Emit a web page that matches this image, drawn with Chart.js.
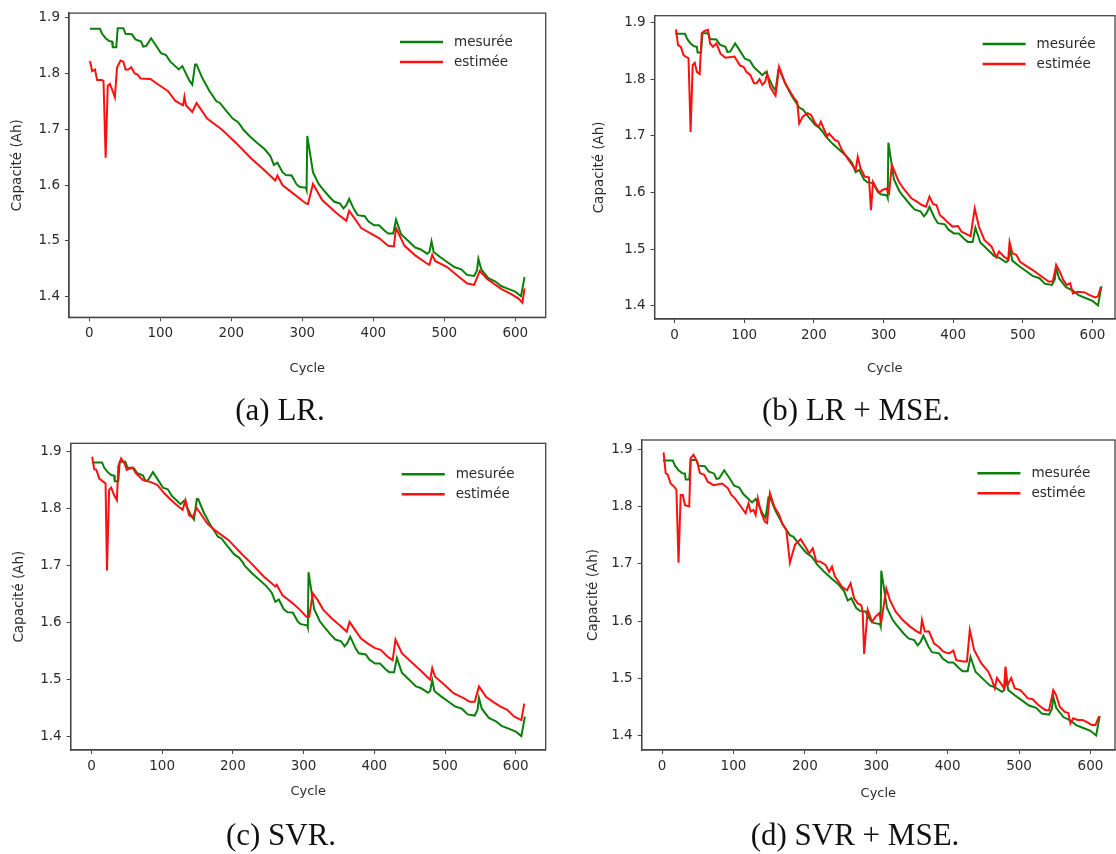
<!DOCTYPE html>
<html lang="fr">
<head>
<meta charset="utf-8">
<title>Capacité mesurée / estimée</title>
<script src="https://cdn.jsdelivr.net/npm/chart.js@4.4.0/dist/chart.umd.min.js"></script>
<style>
  html, body { margin: 0; padding: 0; background: #fff; }
  #page { position: relative; width: 1116px; height: 854px; overflow: hidden; background: #fff; }
  .panel { position: absolute; }
  .panel canvas { display: block; }
  .caption {
    position: absolute;
    font-family: "Liberation Serif", "Times New Roman", serif;
    font-size: 31px;
    color: #111;
    white-space: nowrap;
    transform: translate(-50%, -50%);
  }
</style>
</head>
<body>
<div id="page">
  <div class="panel" style="left:0;top:0"><canvas id="chartA" width="556" height="390"></canvas></div>
  <div class="panel" style="left:556px;top:0"><canvas id="chartB" width="560" height="390"></canvas></div>
  <div class="panel" style="left:0;top:425px"><canvas id="chartC" width="556" height="395"></canvas></div>
  <div class="panel" style="left:556px;top:425px"><canvas id="chartD" width="560" height="395"></canvas></div>

  <div class="caption" style="left:280px;top:410px">(a) LR.</div>
  <div class="caption" style="left:856px;top:410px">(b) LR + MSE.</div>
  <div class="caption" style="left:281px;top:835px">(c) SVR.</div>
  <div class="caption" style="left:855px;top:835px">(d) SVR + MSE.</div>
</div>

<script>
'use strict';

// tick labels
const xTicks = [0, 100, 200, 300, 400, 500, 600];
const yTicks = [1.4, 1.5, 1.6, 1.7, 1.8, 1.9];

// measured capacity (same in all four plots)
const cyclesMesuree = [1, 15, 18, 23, 28, 32, 33, 38, 40, 48,
  51, 60, 65, 73, 76, 80, 87, 96, 101, 108,
  114, 121, 126, 131, 141, 145, 149, 151, 159, 169,
  179, 184, 192, 202, 209, 214, 217, 227, 237, 247,
  255, 260, 265, 272, 277, 285, 292, 296, 305, 306,
  307, 315, 323, 328, 338, 345, 353, 358, 362, 366,
  373, 378, 388, 393, 401, 408, 416, 421, 428, 432,
  439, 449, 459, 466, 476, 479, 482, 485, 494, 504,
  514, 524, 532, 542, 546, 548, 552, 562, 572, 580,
  590, 600, 605, 608, 613];
const mesuree = [1.880, 1.880, 1.871, 1.863, 1.858, 1.857, 1.847, 1.847, 1.881, 1.881,
  1.871, 1.870, 1.861, 1.857, 1.848, 1.849, 1.863, 1.846, 1.836, 1.833,
  1.821, 1.813, 1.807, 1.813, 1.787, 1.780, 1.816, 1.816, 1.792, 1.769,
  1.750, 1.747, 1.734, 1.719, 1.713, 1.705, 1.699, 1.686, 1.675, 1.664,
  1.652, 1.636, 1.640, 1.623, 1.618, 1.617, 1.601, 1.597, 1.595, 1.591,
  1.688, 1.623, 1.602, 1.594, 1.579, 1.570, 1.567, 1.558, 1.564, 1.575,
  1.556, 1.546, 1.544, 1.535, 1.528, 1.528, 1.518, 1.513, 1.513, 1.538,
  1.512, 1.500, 1.488, 1.485, 1.477, 1.480, 1.499, 1.480, 1.471, 1.462,
  1.453, 1.449, 1.439, 1.437, 1.447, 1.468, 1.449, 1.433, 1.427, 1.419,
  1.414, 1.409, 1.404, 1.401, 1.435];

// (a) LR
const cyclesLR = [1, 4, 8, 11, 18, 20, 23, 26, 29, 33,
  36, 39, 44, 48, 51, 55, 59, 64, 68, 72,
  86, 96, 111, 121, 129, 132, 134, 136, 145, 151,
  166, 187, 207, 227, 247, 262, 265, 272, 287, 305,
  308, 315, 328, 348, 362, 366, 383, 398, 408, 421,
  429, 432, 444, 459, 476, 479, 483, 487, 504, 519,
  532, 542, 550, 560, 580, 595, 605, 610, 613];
const estimeeLR = [1.822, 1.804, 1.807, 1.788, 1.788, 1.786, 1.649, 1.778, 1.781, 1.768,
  1.757, 1.810, 1.823, 1.821, 1.807, 1.807, 1.811, 1.800, 1.798, 1.791,
  1.790, 1.781, 1.768, 1.751, 1.745, 1.743, 1.758, 1.743, 1.731, 1.747,
  1.719, 1.699, 1.675, 1.649, 1.626, 1.608, 1.617, 1.600, 1.585, 1.567,
  1.566, 1.602, 1.573, 1.550, 1.536, 1.554, 1.523, 1.512, 1.505, 1.491,
  1.490, 1.523, 1.491, 1.474, 1.459, 1.457, 1.475, 1.464, 1.453, 1.437,
  1.424, 1.421, 1.446, 1.432, 1.414, 1.404, 1.396, 1.389, 1.415];

// (b) LR + MSE
const cyclesLRMSE = [2, 5, 9, 13, 20, 23, 26, 29, 32, 36,
  39, 43, 48, 51, 55, 60, 66, 73, 86, 94,
  99, 103, 109, 114, 118, 122, 126, 130, 133, 137,
  143, 145, 150, 158, 166, 172, 176, 179, 184, 191,
  196, 202, 207, 210, 214, 219, 222, 230, 235, 237,
  240, 250, 260, 263, 267, 273, 279, 282, 285, 290,
  294, 299, 304, 308, 312, 317, 322, 330, 340, 348,
  355, 361, 366, 371, 376, 381, 386, 391, 399, 407,
  412, 417, 425, 431, 437, 445, 455, 462, 466, 473,
  479, 481, 485, 491, 496, 507, 517, 527, 537, 543,
  548, 553, 558, 563, 568, 572, 579, 589, 596, 604,
  608, 612];
const estimeeLRMSE = [1.888, 1.860, 1.857, 1.842, 1.837, 1.707, 1.825, 1.829, 1.813, 1.809,
  1.881, 1.885, 1.887, 1.863, 1.857, 1.863, 1.845, 1.838, 1.840, 1.824,
  1.822, 1.813, 1.807, 1.793, 1.793, 1.800, 1.790, 1.795, 1.810, 1.787,
  1.775, 1.771, 1.822, 1.795, 1.778, 1.766, 1.760, 1.722, 1.734, 1.740,
  1.737, 1.722, 1.716, 1.725, 1.713, 1.699, 1.704, 1.693, 1.690, 1.684,
  1.676, 1.657, 1.640, 1.663, 1.643, 1.628, 1.627, 1.569, 1.619, 1.607,
  1.600, 1.605, 1.607, 1.599, 1.649, 1.634, 1.619, 1.605, 1.590, 1.584,
  1.578, 1.575, 1.593, 1.580, 1.578, 1.560, 1.555, 1.549, 1.540, 1.541,
  1.531, 1.528, 1.523, 1.572, 1.540, 1.516, 1.505, 1.486, 1.496, 1.487,
  1.482, 1.513, 1.493, 1.490, 1.478, 1.469, 1.461, 1.452, 1.443, 1.443,
  1.472, 1.461, 1.446, 1.437, 1.440, 1.422, 1.425, 1.424, 1.419, 1.415,
  1.417, 1.433];

// (c) SVR
const cyclesSVR = [1, 4, 7, 11, 17, 20, 22, 25, 28, 32,
  36, 38, 42, 47, 50, 58, 63, 73, 83, 93,
  103, 113, 123, 129, 133, 138, 143, 149, 154, 164,
  174, 194, 214, 224, 244, 260, 262, 270, 285, 295,
  304, 308, 313, 320, 328, 340, 353, 361, 365, 371,
  381, 391, 401, 409, 419, 426, 430, 439, 452, 467,
  477, 479, 482, 486, 500, 512, 527, 535, 542, 548,
  558, 568, 578, 588, 598, 608, 612];
const estimeeSVR = [1.890, 1.868, 1.867, 1.852, 1.846, 1.843, 1.691, 1.832, 1.836, 1.823,
  1.814, 1.873, 1.887, 1.878, 1.867, 1.871, 1.861, 1.849, 1.846, 1.841,
  1.826, 1.814, 1.803, 1.797, 1.814, 1.788, 1.784, 1.800, 1.791, 1.773,
  1.762, 1.744, 1.718, 1.706, 1.680, 1.663, 1.666, 1.648, 1.633, 1.622,
  1.610, 1.610, 1.651, 1.639, 1.622, 1.607, 1.593, 1.584, 1.601, 1.590,
  1.572, 1.563, 1.555, 1.552, 1.540, 1.534, 1.570, 1.546, 1.531, 1.514,
  1.502, 1.500, 1.520, 1.505, 1.490, 1.476, 1.467, 1.461, 1.461, 1.488,
  1.470, 1.461, 1.453, 1.447, 1.435, 1.429, 1.458];

// (d) SVR + MSE
const cyclesSVRMSE = [2, 5, 8, 12, 17, 20, 23, 26, 29, 32,
  38, 40, 44, 49, 53, 59, 64, 72, 84, 92,
  97, 102, 109, 117, 121, 124, 128, 131, 134, 139,
  144, 147, 151, 157, 164, 169, 174, 179, 186, 194,
  202, 206, 211, 216, 221, 229, 234, 238, 242, 252,
  259, 264, 269, 274, 279, 281, 283, 288, 294, 299,
  304, 307, 314, 319, 327, 337, 347, 357, 362, 364,
  368, 374, 381, 387, 394, 402, 408, 412, 422, 427,
  431, 437, 447, 457, 462, 466, 469, 476, 479, 481,
  484, 489, 494, 502, 512, 519, 527, 537, 542, 548,
  552, 557, 564, 569, 572, 576, 582, 589, 597, 602,
  607, 612];
const estimeeSVRMSE = [1.894, 1.858, 1.855, 1.840, 1.834, 1.829, 1.702, 1.820, 1.820, 1.802,
  1.800, 1.884, 1.890, 1.878, 1.858, 1.855, 1.843, 1.837, 1.840, 1.832,
  1.820, 1.814, 1.802, 1.788, 1.805, 1.791, 1.794, 1.785, 1.814, 1.788,
  1.773, 1.771, 1.823, 1.800, 1.785, 1.768, 1.759, 1.702, 1.733, 1.743,
  1.727, 1.718, 1.727, 1.704, 1.704, 1.698, 1.686, 1.695, 1.678, 1.660,
  1.654, 1.666, 1.640, 1.631, 1.628, 1.615, 1.543, 1.620, 1.599, 1.608,
  1.614, 1.599, 1.657, 1.637, 1.617, 1.602, 1.591, 1.582, 1.579, 1.602,
  1.582, 1.582, 1.561, 1.556, 1.547, 1.544, 1.549, 1.532, 1.530, 1.530,
  1.585, 1.550, 1.527, 1.512, 1.498, 1.483, 1.501, 1.489, 1.483, 1.521,
  1.489, 1.501, 1.483, 1.480, 1.466, 1.464, 1.454, 1.445, 1.445, 1.480,
  1.471, 1.451, 1.442, 1.440, 1.422, 1.431, 1.428, 1.428, 1.423, 1.419,
  1.419, 1.434];

const GREEN = '#0a7f0a';
const RED = '#ff0f0f';
const AXIS = '#444';
const TEXT = '#2b2b2b';

function toPoints(xs, ys){
  let pts = [];
  for(let i = 0; i < xs.length; i++){
    pts.push({x: xs[i], y: ys[i]});
  }
  return pts;
}

// matplotlib style box round the axes
const framePlugin = {
  id: 'frame',
  afterDatasetsDraw(chart){
    const a = chart.chartArea;
    const ctx = chart.ctx;
    ctx.save();
    ctx.strokeStyle = AXIS;
    ctx.lineWidth = 1.3;
    ctx.strokeRect(a.left, a.top, a.right - a.left, a.bottom - a.top);
    ctx.restore();
  }
};

// legend drawn inside the plot, upper right, no frame
const insideLegend = {
  id: 'insideLegend',
  afterDraw(chart, args, opts){
    const a = chart.chartArea;
    const ctx = chart.ctx;
    ctx.save();
    ctx.font = '13.5px "DejaVu Sans", sans-serif';
    ctx.textBaseline = 'middle';
    chart.data.datasets.forEach(function(ds, i){
      let y = a.top + opts.dy + i * 20;
      ctx.strokeStyle = ds.borderColor;
      ctx.lineWidth = 2.5;
      ctx.beginPath();
      ctx.moveTo(a.left + opts.dx, y);
      ctx.lineTo(a.left + opts.dx + 43, y);
      ctx.stroke();
      ctx.fillStyle = TEXT;
      ctx.fillText(ds.label, a.left + opts.dx + 54, y);
    });
    ctx.restore();
  }
};

function makeChart(id, cycles, estimee, p){
  const ctx = document.getElementById(id);
  new Chart(ctx, {
    type: 'line',
    data: {
      datasets: [
        {label: 'mesurée', data: toPoints(cyclesMesuree, mesuree), borderColor: GREEN, order: 1},
        {label: 'estimée', data: toPoints(cycles, estimee), borderColor: RED, order: 0}
      ]
    },
    options: {
      responsive: false,
      animation: false,
      layout: {padding: {left: 0, top: p.top, right: p.right, bottom: p.bottom}},
      elements: {
        point: {radius: 0},
        line: {borderWidth: 2, tension: 0, fill: false}
      },
      plugins: {
        legend: {display: false},
        tooltip: {enabled: false},
        insideLegend: {dx: p.legDx, dy: p.legDy}
      },
      scales: {
        x: {
          type: 'linear',
          min: p.xMin,
          max: p.xMax,
          afterBuildTicks: function(s){ s.ticks = xTicks.map(v => ({value: v})); },
          afterFit: function(s){ s.height = 62; },
          grid: {display: true, drawOnChartArea: false, drawTicks: true, tickLength: 4, color: AXIS},
          border: {display: true, color: AXIS, width: 1.3},
          ticks: {
            padding: 4,
            color: TEXT,
            font: {family: 'DejaVu Sans', size: 13.5},
            maxRotation: 0,
            callback: v => String(v)
          },
          title: {
            display: true,
            text: 'Cycle',
            color: TEXT,
            font: {family: 'DejaVu Sans', size: 13},
            padding: {top: 0, bottom: 62 - 7.8 - p.xTitle}
          }
        },
        y: {
          type: 'linear',
          min: p.yMin,
          max: p.yMax,
          afterBuildTicks: function(s){ s.ticks = yTicks.map(v => ({value: v})); },
          afterFit: function(s){ s.width = p.yW; },
          grid: {display: true, drawOnChartArea: false, drawTicks: true, tickLength: 4, color: AXIS},
          border: {display: true, color: AXIS, width: 1.3},
          ticks: {
            padding: 5,
            color: TEXT,
            font: {family: 'DejaVu Sans', size: 13.5},
            callback: v => v.toFixed(1)
          },
          title: {
            display: true,
            text: 'Capacité (Ah)',
            color: TEXT,
            font: {family: 'DejaVu Sans', size: 13.5},
            padding: {top: p.yTitle - 8.1, bottom: 0}
          }
        }
      }
    },
    plugins: [framePlugin, insideLegend]
  });
}

makeChart('chartA', cyclesLR, estimeeLR, {
  yW: 69, top: 9.3, right: 10.3, bottom: 10.7,
  xMin: -28.6, xMax: 642.8, yMin: 1.363, yMax: 1.908,
  legDx: 331, legDy: 29, yTitle: 17, xTitle: 51
});
makeChart('chartB', cyclesLRMSE, estimeeLRMSE, {
  yW: 98.6, top: 15.7, right: 1, bottom: 9,
  xMin: -28.7, xMax: 632.4, yMin: 1.377, yMax: 1.912,
  legDx: 328, legDy: 28.3, yTitle: 43, xTitle: 49.3
});
makeChart('chartC', cyclesSVR, estimeeSVR, {
  yW: 70.7, top: 18.3, right: 10.3, bottom: 8,
  xMin: -29.3, xMax: 642.4, yMin: 1.3767, yMax: 1.9135,
  legDx: 331, legDy: 31, yTitle: 19.6, xTitle: 41.7
});
makeChart('chartD', cyclesSVRMSE, estimeeSVRMSE, {
  yW: 85.7, top: 15, right: 1, bottom: 8,
  xMin: -28.6, xMax: 634.4, yMin: 1.3756, yMax: 1.9157,
  legDx: 335.7, legDy: 33.3, yTitle: 37.5, xTitle: 43.3
});
</script>
</body>
</html>
